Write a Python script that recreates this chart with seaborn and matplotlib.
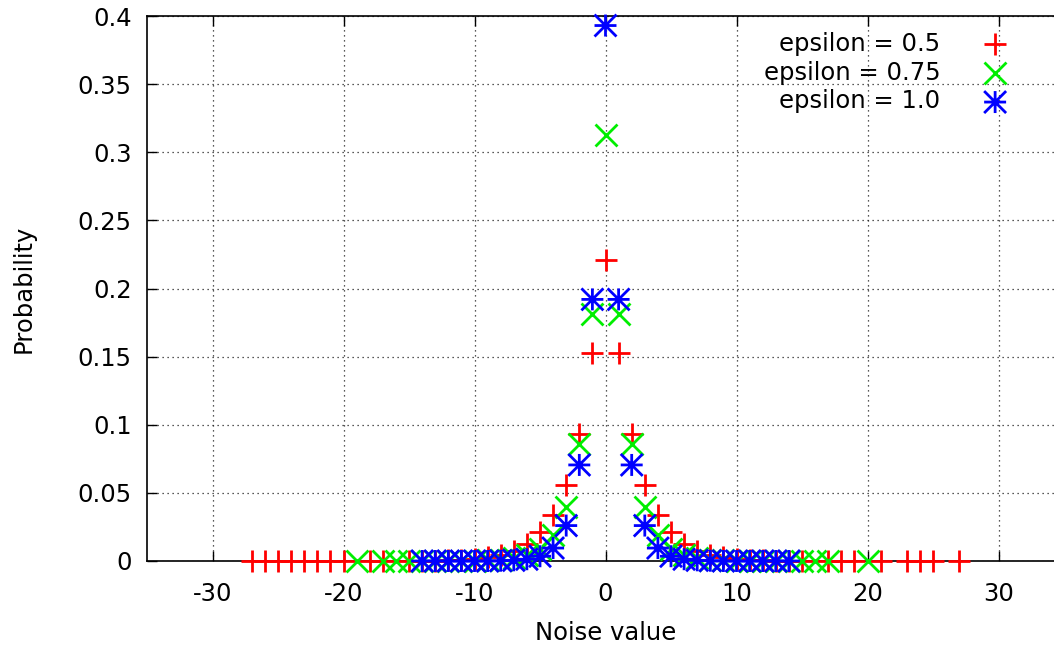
import numpy as np
import matplotlib
matplotlib.use("Agg")
import matplotlib.pyplot as plt
from matplotlib.path import Path
import seaborn as sns

# eps = 0.5
x_red = [-27, -26, -25, -24, -23, -22, -21, -20, -18, -17, -15, -14,
         -13, -12, -11, -10, -9, -8, -7, -6, -5, -4, -3, -2, -1, 0,
         1, 2, 3, 4, 5, 6, 7, 8, 9, 10, 11, 12, 13,
         14, 15, 17, 18, 19, 21, 23, 24, 25, 27]
y_red = [0, 0, 0, 0, 0, 0, 0, 0, 0, 0, 0.0001, 0.0002,
         0.0003, 0.0006, 0.001, 0.0017, 0.0028, 0.0046, 0.0076, 0.0126, 0.021, 0.034, 0.056, 0.093, 0.153, 0.221,
         0.153, 0.093, 0.056, 0.034, 0.021, 0.0126, 0.0076, 0.0046, 0.0028, 0.0017, 0.001, 0.0006, 0.0003,
         0.0002, 0.0001, 0, 0, 0, 0, 0, 0, 0, 0]

# eps = 0.75
x_green = [-19, -17, -16, -15, -14,
           -13, -12, -11, -10, -9, -8, -7, -6, -5, -4, -3, -2, -1, 0,
           1, 2, 3, 4, 5, 6, 7, 8, 9, 10, 11, 12, 13,
           14, 15, 16, 17, 20]
y_green = [0, 0, 0, 0, 0,
           0, 0.0001, 0.0001, 0.0002, 0.0004, 0.001, 0.002, 0.0043, 0.009, 0.019, 0.040, 0.086, 0.181, 0.313,
           0.181, 0.086, 0.040, 0.019, 0.009, 0.0043, 0.002, 0.001, 0.0004, 0.0002, 0.0001, 0.0001, 0,
           0, 0, 0, 0, 0]

# eps = 1.0
x_blue = [-14, -13, -12, -11, -10, -9, -8, -7, -6, -5, -4, -3, -2, -1, 0,
          1, 2, 3, 4, 5, 6, 7, 8, 9, 10, 11, 12, 13, 14]
y_blue = [0, 0, 0, 0, 0, 0, 0.0002, 0.0005, 0.0013, 0.0035, 0.0095, 0.026, 0.0705, 0.192, 0.393,
          0.192, 0.0705, 0.026, 0.0095, 0.0035, 0.0013, 0.0005, 0.0002, 0, 0, 0, 0, 0, 0]

labels = ["epsilon = 0.5", "epsilon = 0.75", "epsilon = 1.0"]
xticks = [-30, -20, -10, 0, 10, 20, 30]
yticks = [0, 0.05, 0.1, 0.15, 0.2, 0.25, 0.3, 0.35, 0.4]
ytick_labels = ["0", "0.05", "0.1", "0.15", "0.2", "0.25", "0.3", "0.35", "0.4"]

sns.set_theme(style="white")
plt.rcParams["font.family"] = ["DejaVu Sans"]
plt.rcParams["text.color"] = "black"
plt.rcParams["axes.labelcolor"] = "black"
FS = 17.5

fig = plt.figure(figsize=(10.54, 6.48), dpi=100)
ax = fig.add_axes([147 / 1054, 87 / 648, 917 / 1054, 545 / 648])

# gnuplot style star: plus and cross together
star = Path([(0, -0.5), (0, 0.5), (-0.5, 0), (0.5, 0),
             (-0.5, -0.5), (0.5, 0.5), (-0.5, 0.5), (0.5, -0.5)],
            [Path.MOVETO, Path.LINETO] * 4)

S = 250
LW = 2.0
sns.scatterplot(x=x_red, y=y_red, marker="+", color="#ff0000", s=S, linewidth=LW,
                label=labels[0], ax=ax, zorder=3, clip_on=False)
sns.scatterplot(x=x_green, y=y_green, marker="x", color="#00ee00", s=S, linewidth=LW,
                label=labels[1], ax=ax, zorder=4, clip_on=False)
sns.scatterplot(x=x_blue, y=y_blue, marker=star, color="#0000ff", s=S, linewidth=LW,
                facecolor="none", edgecolor="#0000ff", label=labels[2], ax=ax, zorder=5,
                clip_on=False)

ax.set_xlim(-35, 35)
ax.set_ylim(0, 0.4)
ax.set_xticks(xticks)
ax.set_xticklabels([str(t) for t in xticks])
ax.set_yticks(yticks)
ax.set_yticklabels(ytick_labels)

ax.grid(True, color="#222222", linestyle=(0, (1, 3)), linewidth=0.9)
ax.set_axisbelow(True)

for side in ["left", "bottom", "top"]:
    ax.spines[side].set_color("black")
    ax.spines[side].set_linewidth(1.2)
    ax.spines[side].set_zorder(2.5)
ax.spines["right"].set_visible(False)

ax.tick_params(axis="x", direction="in", length=7, width=1, top=True, bottom=True,
               labelsize=FS, pad=15, colors="black")
ax.tick_params(axis="y", direction="in", length=7, width=1, left=True, right=False,
               labelsize=FS, pad=11, colors="black")

ax.set_xlabel("Noise value", fontsize=FS)
ax.set_ylabel("Probability", fontsize=FS)
ax.xaxis.set_label_coords(0.5, -0.11)
ax.yaxis.set_label_coords(-0.122, 0.5)

ax.legend(loc="upper right", bbox_to_anchor=(0.962, 0.989), borderaxespad=0,
          frameon=False, markerfirst=False, fontsize=FS, handletextpad=1.25,
          labelspacing=0.2, handlelength=2.0)

fig.savefig("out.png", dpi=100)
